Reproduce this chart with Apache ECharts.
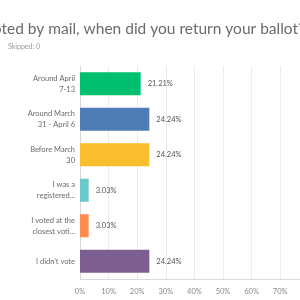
<!DOCTYPE html>
<html><head><meta charset="utf-8">
<script src="https://cdn.jsdelivr.net/npm/echarts@6/dist/echarts.min.js"></script>
<style>html,body{margin:0;padding:0;background:#fff}#c{width:300px;height:300px}</style>
</head><body><div id="c"></div>
<script>
const titleText = "If you voted by mail, when did you return your ballot?";
const subText = "Skipped: 0";
const categories = ["Around April\n7-13", "Around March\n31 - April 6", "Before March\n30", "I was a\nregistered...", "I voted at the\nclosest voti...", "I didn't vote"];
const values = [21.21, 24.24, 24.24, 3.03, 3.03, 24.24];
const colors = ["#00bf6f", "#507cb6", "#f9be2d", "#6bc8cd", "#ff8b4f", "#7d5e90"];
const tickValues = [0, 10, 20, 30, 40, 50, 60, 70, 80, 90, 100];

const font = "Lato, 'Open Sans', sans-serif";
const chart = echarts.init(document.getElementById('c'), null, {renderer: 'canvas'});
chart.setOption({
  animation: false,
  backgroundColor: '#fff',
  graphic: [
    {type: 'text', x: 305, y: 21, style: {text: titleText, align: 'right', fill: '#6b6b6b', font: '15.5px ' + font}},
    {type: 'text', x: 8, y: 43, style: {text: subText, fill: '#9a9a9a', font: '7px ' + font}}
  ],
  grid: {left: 80, width: 286, top: 66, height: 213, containLabel: false, outerBoundsMode: 'none'},
  xAxis: {
    type: 'value', min: 0, max: 100, interval: 10,
    axisLine: {show: true, lineStyle: {color: '#d9d9d9'}},
    axisTick: {show: false},
    splitLine: {show: true, lineStyle: {color: '#ececec'}},
    axisLabel: {formatter: v => v + '%', color: '#8a8a8a', fontSize: 7.5, fontFamily: font, margin: 9}
  },
  yAxis: {
    type: 'category', data: categories, inverse: true,
    axisLine: {show: true, lineStyle: {color: '#d9d9d9'}},
    axisTick: {show: false},
    axisLabel: {color: '#6b6b6b', fontSize: 7.5, fontFamily: font, lineHeight: 11, align: 'right', margin: 5}
  },
  series: [{
    type: 'bar',
    barWidth: 23,
    data: values.map((v, i) => ({value: v, itemStyle: {color: colors[i]}})),
    label: {show: true, position: 'right', distance: 7, formatter: p => p.value.toFixed(2) + '%', color: '#555', fontSize: 7.5, fontFamily: font}
  }]
});
</script></body></html>
